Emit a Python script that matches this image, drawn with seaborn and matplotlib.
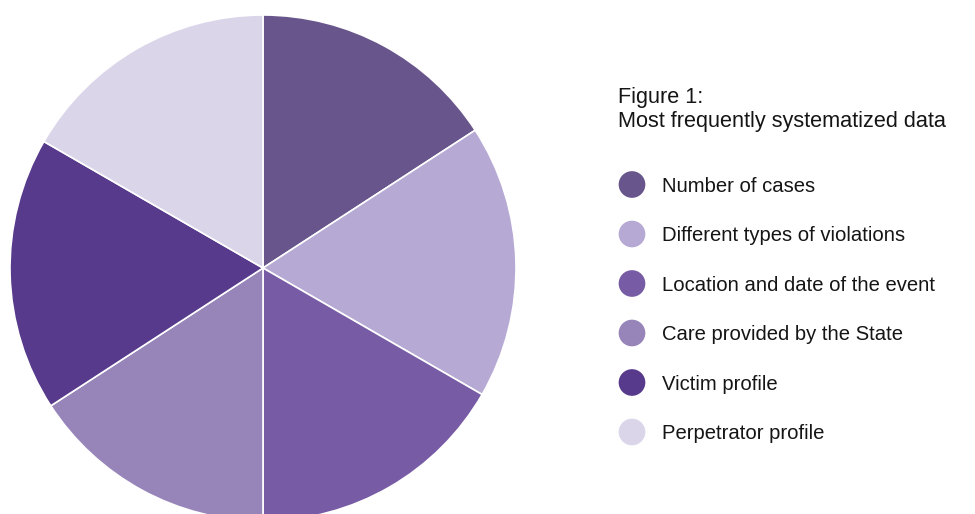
import matplotlib
matplotlib.use("Agg")
import matplotlib.pyplot as plt
import seaborn as sns
import pandas as pd

# Data
categories = [
    "Number of cases",
    "Different types of violations",
    "Location and date of the event",
    "Care provided by the State",
    "Victim profile",
    "Perpetrator profile",
]
values = [19, 21, 20, 19, 21, 20]
colors = ["#67558b", "#b6aad4", "#775ba4", "#9785ba", "#573a8c", "#dbd5ea"]
title_lines = ["Figure 1:", "Most frequently systematized data"]

sns.set_theme(style="white")
plt.rcParams["font.family"] = ["Liberation Sans", "DejaVu Sans"]

W, H = 975, 514
fig = plt.figure(figsize=(W / 100, H / 100), dpi=100)
fig.patch.set_facecolor("white")

# Pie axes: centre (263, 268) px, radius 253 px
cx, cy, r = 263, 268, 253
ax = fig.add_axes([(cx - r) / W, (H - cy - r) / H, 2 * r / W, 2 * r / H])
ax.pie(values, colors=colors, startangle=90, counterclock=False,
       radius=1.0, wedgeprops=dict(edgecolor="white", linewidth=1.2))
ax.set_xlim(-1, 1)
ax.set_ylim(-1, 1)
ax.set_aspect("equal")
ax.axis("off")

# Legend drawn in a pixel-coordinate overlay
lax = fig.add_axes([0, 0, 1, 1])
lax.patch.set_alpha(0)

rows_y = [184.5, 234, 283.5, 333, 382.5, 432]
leg = pd.DataFrame({"x": [632] * len(categories), "y": rows_y, "label": categories})
sns.scatterplot(data=leg, x="x", y="y", hue="label", palette=colors,
                hue_order=categories, s=369, edgecolor="none",
                legend=False, ax=lax)
lax.set_xlim(0, W)
lax.set_ylim(H, 0)
lax.axis("off")

lax.text(618, 103.3, title_lines[0], fontsize=15.6, color="#151515",
         va="baseline", ha="left")
lax.text(618, 127.5, title_lines[1], fontsize=15.6, color="#151515",
         va="baseline", ha="left")
for y, lab in zip(rows_y, categories):
    lax.text(662, y + 7.2, lab, fontsize=14.6, color="#151515",
             va="baseline", ha="left")

fig.savefig("out.png", dpi=100, facecolor="white")
